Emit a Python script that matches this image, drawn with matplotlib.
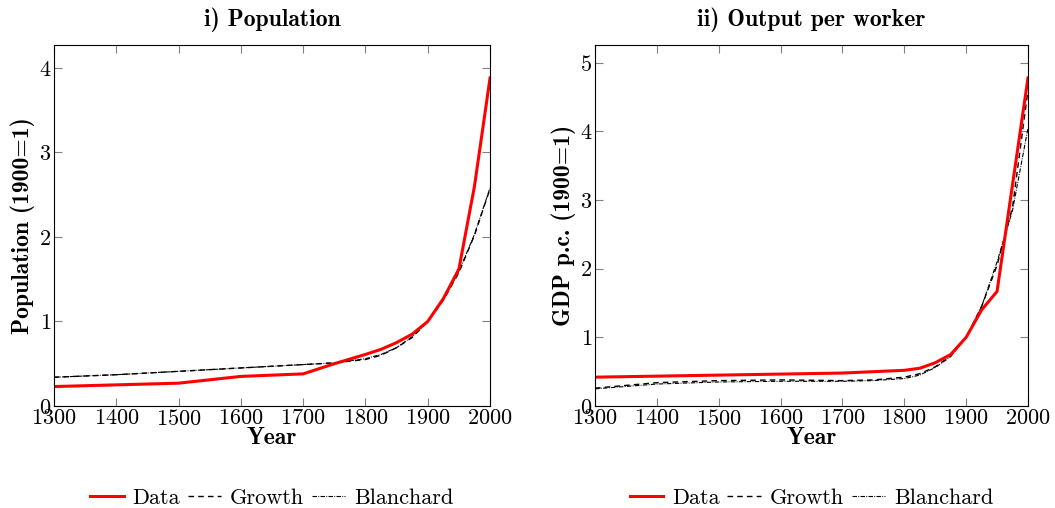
import matplotlib
matplotlib.use("Agg")
import matplotlib.pyplot as plt

plt.rcParams['font.family'] = 'serif'
plt.rcParams['font.serif'] = ['cmr10']
plt.rcParams['mathtext.fontset'] = 'cm'
plt.rcParams['axes.formatter.use_mathtext'] = True

# population (1900=1)
pop_years = [1300, 1500, 1600, 1700, 1750, 1800, 1825, 1850, 1875, 1900, 1925, 1950, 1975, 2000]
pop_data = [0.23, 0.27, 0.35, 0.38, 0.50, 0.61, 0.67, 0.75, 0.85, 1.0, 1.27, 1.62, 2.6, 3.88]
model_years = [1300, 1400, 1500, 1600, 1700, 1750, 1800, 1825, 1850, 1875, 1900, 1925, 1950, 1975, 2000]
pop_growth = [0.34, 0.37, 0.41, 0.45, 0.49, 0.51, 0.55, 0.60, 0.69, 0.81, 1.0, 1.25, 1.58, 2.02, 2.57]
pop_blanchard = [0.34, 0.37, 0.41, 0.45, 0.49, 0.51, 0.56, 0.61, 0.69, 0.82, 1.0, 1.26, 1.59, 2.03, 2.58]

# output per worker (1900=1)
gdp_years = [1300, 1500, 1700, 1800, 1825, 1850, 1875, 1900, 1925, 1950, 2000]
gdp_data = [0.42, 0.45, 0.48, 0.52, 0.55, 0.63, 0.75, 1.0, 1.4, 1.67, 4.78]
gdp_growth = [0.26, 0.34, 0.37, 0.38, 0.37, 0.38, 0.42, 0.47, 0.57, 0.73, 1.0, 1.45, 2.05, 2.9, 4.6]
gdp_blanchard = [0.25, 0.32, 0.35, 0.36, 0.36, 0.37, 0.40, 0.45, 0.56, 0.72, 1.0, 1.45, 2.1, 2.85, 4.05]

xticks = [1300, 1400, 1500, 1600, 1700, 1800, 1900, 2000]

fig = plt.figure(figsize=(10.55, 5.08), dpi=100)
ax1 = fig.add_axes([0.0512, 0.2008, 0.4133, 0.7106])
ax2 = fig.add_axes([0.564, 0.2008, 0.4104, 0.7106])

panels = [
    (ax1, pop_years, pop_data, pop_growth, pop_blanchard, 'i) Population',
     'Population (1900=1)', 4.27, [0, 1, 2, 3, 4]),
    (ax2, gdp_years, gdp_data, gdp_growth, gdp_blanchard, 'ii) Output per worker',
     'GDP p.c. (1900=1)', 5.26, [0, 1, 2, 3, 4, 5]),
]

bold = {'family': 'cmb10'}

for ax, yrs, data, growth, blanch, title, ylab, ytop, yticks in panels:
    ax.plot(model_years, growth, color='black', lw=1.0, ls=(0, (4, 3)), label='Growth')
    ax.plot(model_years, blanch, color='black', lw=0.8, ls=(0, (4, 1.2, 0.8, 1.2)), label='Blanchard')
    ax.plot(yrs, data, color='red', lw=2.2, label='Data', solid_joinstyle='miter')
    ax.set_xlim(1300, 2000)
    ax.set_ylim(0, ytop)
    ax.set_xticks(xticks)
    ax.set_yticks(yticks)
    ax.tick_params(direction='in', length=6, color='gray', width=0.8,
                   top=True, right=True, labelsize=16, pad=2)
    ax.set_title(title, fontdict=bold, fontsize=17, pad=14)
    ax.set_xlabel('Year', fontdict=bold, fontsize=17, labelpad=-1)
    ax.set_ylabel(ylab, fontdict=bold, fontsize=17, labelpad=3)
    handles, labels = ax.get_legend_handles_labels()
    order = [2, 0, 1]
    ax.legend([handles[i] for i in order], [labels[i] for i in order],
              loc='center', bbox_to_anchor=(0.5, -0.255), ncol=3, frameon=False,
              fontsize=16, handlelength=1.5, columnspacing=0.35, handletextpad=0.4,
              borderpad=0.2)

fig.savefig('out.png', dpi=100)
